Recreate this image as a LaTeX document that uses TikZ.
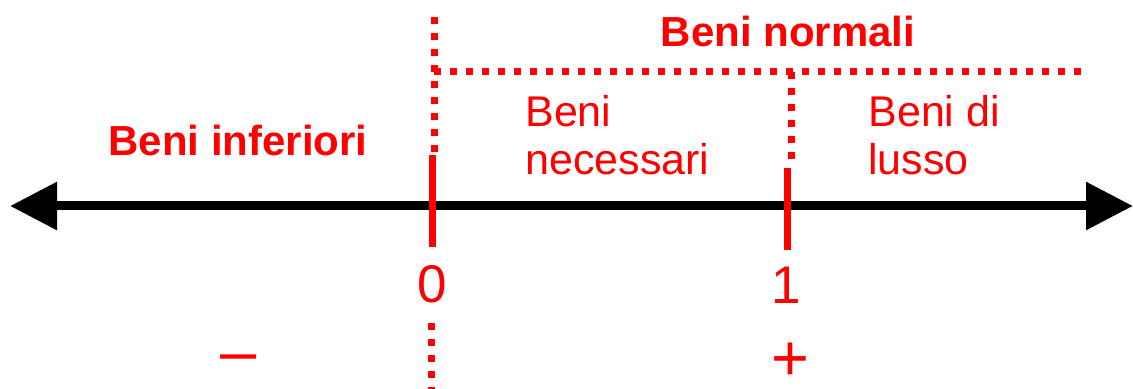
\documentclass[tikz,border=0pt]{standalone}
\usepackage{fontspec}
\setmainfont{Liberation Sans}
\usetikzlibrary{positioning,arrows.meta}

\begin{document}
\begin{tikzpicture}[
  x=0.5pt, y=-0.5pt,
  axis/.style={line width=4.5pt, {Triangle[length=23.5pt, width=23pt]}-{Triangle[length=23.5pt, width=23pt]}},
  tick/.style={red, line width=3.5pt},
  guide/.style={red, line width=3.5pt, dash pattern=on 3.5pt off 4.5pt},
  lbl/.style={text=red, inner sep=0pt, font=\fontsize{21.5}{24}\selectfont},
  blbl/.style={lbl, font=\fontsize{21}{24}\selectfont\bfseries, anchor=base},
  num/.style={text=red, inner sep=0pt, anchor=base, font=\fontsize{26.5}{30}\selectfont},
  sgn/.style={num, text depth=0pt, font=\fontsize{32.5}{36}\selectfont},
]
  \useasboundingbox (0,0) rectangle (1133,389);

  % Axis
  \coordinate (axL) at (10,206);
  \coordinate (axR) at (1133,206);
  \draw[axis] (axL) -- (axR);

  % Ticks at 0 and 1
  \coordinate (t0a) at (432,155);
  \coordinate (t0b) at (432,247);
  \coordinate (t1a) at (787,168);
  \coordinate (t1b) at (787,250);
  \draw[tick] (t0a) -- (t0b);
  \draw[tick] (t1a) -- (t1b);

  % Dotted guides
  \coordinate (g0top) at (434,17);
  \coordinate (g0cor) at (434,72);
  \coordinate (g0end) at (434,152);
  \coordinate (gR)    at (1086,72);
  \coordinate (g1top) at (791,72);
  \coordinate (g1end) at (791,164);
  \coordinate (g0low) at (431,323);
  \coordinate (g0bot) at (431,389);
  \draw[guide] (g0top) -- (g0end);
  \draw[guide] (g0cor) -- (gR);
  \draw[guide] (g1top) -- (g1end);
  \draw[guide] (g0low) -- (g0bot);

  % Labels
  \node[blbl] (norm) at (788,47)  {Beni normali};
  \node[blbl] (inf)  at (238,156) {Beni inferiori};
  \node[lbl, align=left, anchor=base west] (nec) at (525,175) {Beni\\necessari};
  \node[lbl, align=left, anchor=base west] (lux) at (868,175) {Beni di\\lusso};

  % Values and signs
  \node[num] (n0) at (432,302) {0};
  \node[num] (n1) at (786,304) {1};
  \node[sgn] (neg) at (239,373) {–};
  \node[sgn] (pos) at (790,380) {+};
\end{tikzpicture}
\end{document}
